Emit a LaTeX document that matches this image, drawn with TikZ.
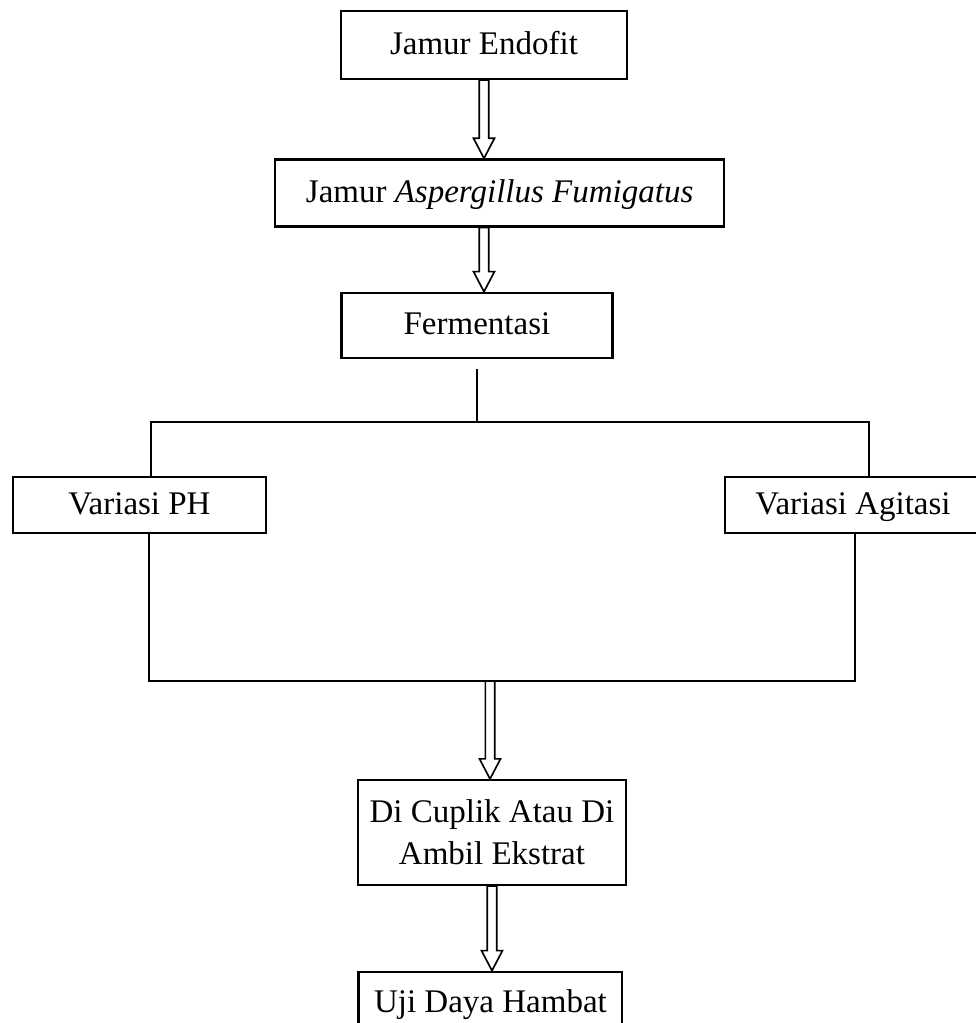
\documentclass[tikz,border=0pt]{standalone}
\usepackage{fontspec}
\setmainfont{Liberation Serif}
\usepackage{tikz}
\usetikzlibrary{positioning, calc}
\tikzset{
    stepbox/.style={
        rectangle,
        draw=black,
        line width=0.8pt,
        fill=white,
        align=center,
        inner sep=2pt,
        font=\fontsize{12}{15.3}\selectfont
    },
    oneline/.style={
        text height=0.72em,
        text depth=0.04em
    },
    link/.style={
        draw=black,
        line width=0.6pt
    },
    hollow/.style={
        draw=black,
        line width=0.6pt,
        fill=white,
        to path={
            let \p1=(\tikztostart), \p2=(\tikztotarget) in
            (\x1-0.06cm,\y1) -- (\x1-0.06cm,\y2+0.256cm) -- (\x1-0.134cm,\y2+0.256cm)
            -- (\x1,\y2) -- (\x1+0.134cm,\y2+0.256cm) -- (\x1+0.06cm,\y2+0.256cm)
            -- (\x1+0.06cm,\y1) -- cycle
        }
    }
}
\begin{document}
\begin{tikzpicture}

\useasboundingbox (0,0) rectangle (12.472,-13.073);
\clip (0,0) rectangle (12.472,-13.073);

% Main chain
\node[stepbox, oneline, minimum width=3.655cm, minimum height=0.869cm] (endofit) at (6.185,-0.575) {Jamur Endofit};
\node[stepbox, oneline, below=1cm of endofit, xshift=0.2cm, minimum width=5.738cm, minimum height=0.856cm] (aspergillus) {Jamur \textit{Aspergillus Fumigatus}};
\node[stepbox, oneline, below=0.82cm of aspergillus, xshift=-0.29cm, minimum width=3.463cm, minimum height=0.831cm] (ferment) {Fermentasi};

% Variations
\node[stepbox, oneline, minimum width=3.233cm, minimum height=0.716cm] (ph) at (1.783,-6.453) {Variasi PH};
\node[stepbox, oneline, minimum width=3.27cm, minimum height=0.716cm] (agitasi) at (10.9,-6.453) {Variasi Agitasi};

% Extraction and test
\node[stepbox, minimum width=3.425cm, minimum height=1.342cm] (cuplik) at (6.287,-10.639) {Di Cuplik Atau Di\\Ambil Ekstrat};
\node[stepbox, oneline, below=1.08cm of cuplik, xshift=-0.02cm, minimum width=3.37cm, minimum height=0.79cm] (uji) {Uji Daya Hambat};

% Branch points
\coordinate (split) at (6.096,-5.393);
\coordinate (brL) at (1.930,-5.393);
\coordinate (brR) at (11.105,-5.393);
\coordinate (joinL) at (1.904,-8.703);
\coordinate (joinR) at (10.926,-8.703);
\coordinate (join) at (6.262,-8.703);

% Hollow arrows
\draw[hollow] (endofit.south) to (endofit.south |- aspergillus.north);
\draw[hollow] (aspergillus.south -| endofit.south) to (endofit.south |- ferment.north);
\draw[hollow] (join) to (join |- cuplik.north);
\draw[hollow] (cuplik.south) to (cuplik.south |- uji.north);

% Split and join lines
\draw[link] ([yshift=-0.13cm]ferment.south -| split) -- (split);
\draw[link] (brL |- ph.north) -- (brL) -- (brR) -- (brR |- agitasi.north);
\draw[link] (joinL |- ph.south) -- (joinL) -- (joinR) -- (joinR |- agitasi.south);

\end{tikzpicture}
\end{document}
